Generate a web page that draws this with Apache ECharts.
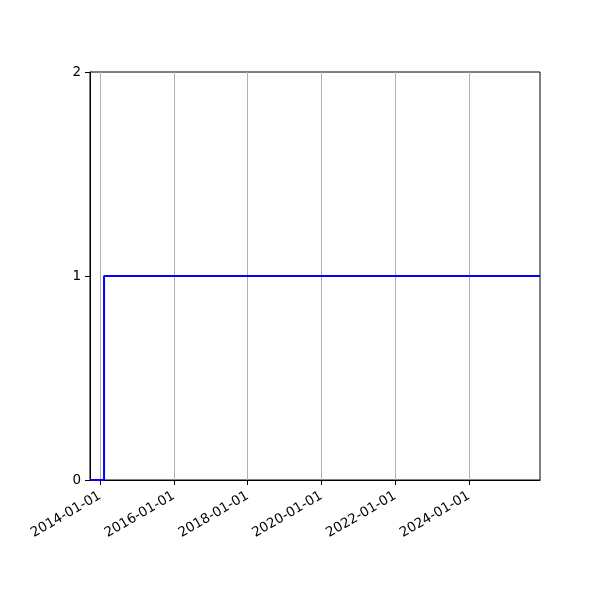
<!DOCTYPE html>
<html>
<head>
<meta charset="utf-8">
<script src="https://cdn.jsdelivr.net/npm/echarts@6/dist/echarts.min.js"></script>
<style>
  html, body { margin: 0; padding: 0; background: #fff; }
  #chart { width: 600px; height: 600px; }
</style>
</head>
<body>
<div id="chart"></div>
<script>
// step series: 0 until early 2014, then 1 to the end
const stepDates = ["2013-09-24", "2014-02-10", "2025-12-04"];
const stepValues = [0, 1, 1];
const xTicks = ["2014-01-01", "2016-01-01", "2018-01-01", "2020-01-01", "2022-01-01", "2024-01-01"];
const yTicks = [0, 1, 2];

const ts = (s) => {
  const [y, m, d] = s.split("-").map(Number);
  return new Date(y, m - 1, d).getTime();
};
const pad = (n) => String(n).padStart(2, "0");
function formatDate(v) {
  const d = new Date(v);
  return `${d.getFullYear()}-${pad(d.getMonth() + 1)}-${pad(d.getDate())}`;
}

const chart = echarts.init(document.getElementById("chart"));
const font = "DejaVu Sans";

chart.setOption({
  animation: false,
  grid: {
    left: 90, right: 60, top: 72, bottom: 120,
    show: true, borderColor: "#000", borderWidth: 1
  },
  xAxis: {
    type: "value",
    min: ts(stepDates[0]),
    max: ts(stepDates[stepDates.length - 1]),
    axisLine: { show: true, onZero: false, lineStyle: { color: "#000", width: 1 } },
    axisTick: {
      show: true, length: 5, lineStyle: { color: "#000" },
      customValues: xTicks.map(ts)
    },
    axisLabel: {
      customValues: xTicks.map(ts),
      rotate: 30, color: "#000", fontFamily: font, fontSize: 13.5, margin: 15,
      formatter: (v) => formatDate(v)
    },
    splitLine: { show: true, lineStyle: { color: "#b0b0b0", width: 1 } }
  },
  yAxis: {
    type: "value",
    min: yTicks[0], max: yTicks[yTicks.length - 1], interval: 1,
    axisLine: { show: true, lineStyle: { color: "#000", width: 1 } },
    axisTick: { show: true, length: 5, lineStyle: { color: "#000" } },
    axisLabel: { color: "#000", fontFamily: font, fontSize: 13.5, margin: 9 },
    splitLine: { show: false }
  },
  series: [{
    type: "line",
    step: "end",
    showSymbol: false,
    lineStyle: { color: "#0000ff", width: 2 },
    data: stepDates.map((d, i) => [ts(d), stepValues[i]])
  }]
});
</script>
</body>
</html>
